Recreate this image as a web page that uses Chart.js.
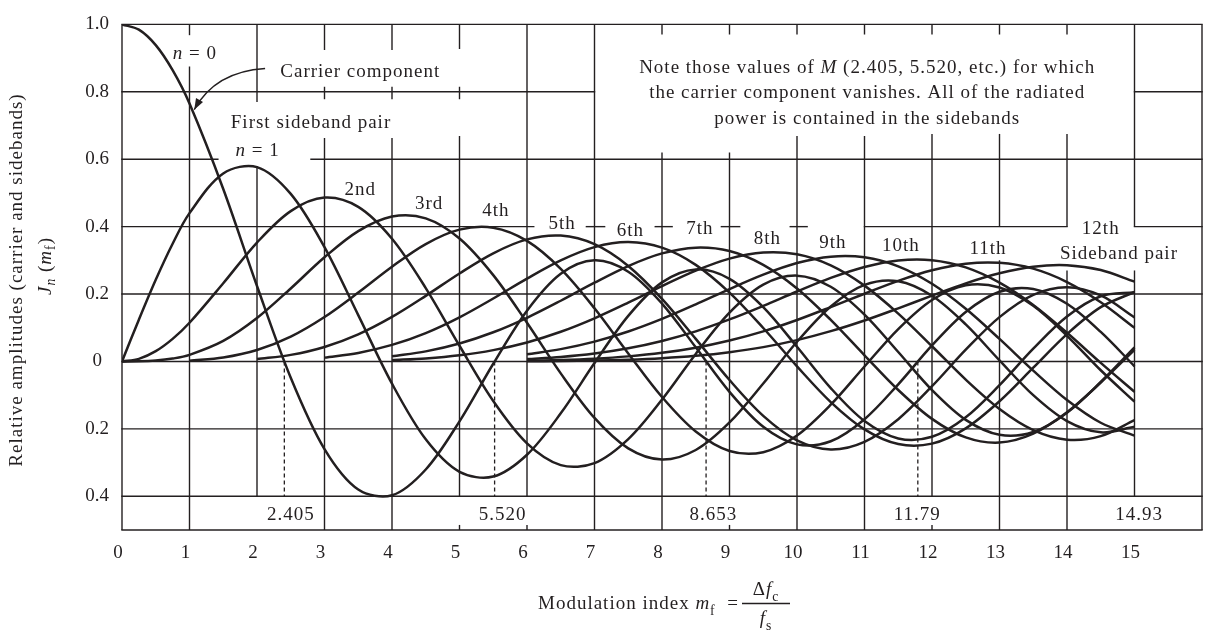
<!DOCTYPE html>
<html>
<head>
<meta charset="utf-8">
<script src="https://cdn.jsdelivr.net/npm/chart.js@4.4.1/dist/chart.umd.min.js"></script>
<style>
  html, body { margin: 0; padding: 0; background: #fff; }
  #wrap { width: 1210px; height: 635px; }
</style>
</head>
<body>
<div id="wrap"><canvas id="bessel" width="1210" height="635"></canvas></div>
<script>
// --- values (finer steps near m_f = 0 where the carrier bends) ---
const MF = [0, 0.25, 0.5, 0.75, 1, 1.5, 2, 2.5, 3, 3.5, 4, 4.5, 5, 5.5, 6, 6.5, 7, 7.5,
            8, 8.5, 9, 9.5, 10, 10.5, 11, 11.5, 12, 12.5, 13, 13.5, 14, 14.5, 15];

const J0 = [1, 0.9844, 0.9385, 0.8642, 0.7652, 0.5118, 0.2239, -0.0484, -0.2601, -0.3801, -0.3971, -0.3205, -0.1776, -0.0068,
            0.1506, 0.2601, 0.3001, 0.2663, 0.1717, 0.0419, -0.0903, -0.1939, -0.2459, -0.2366, -0.1712, -0.0677,
            0.0477, 0.1469, 0.2069, 0.2150, 0.1711, 0.0876, -0.0142];
const J1 = [0, 0.1240, 0.2423, 0.3492, 0.4401, 0.5579, 0.5767, 0.4971, 0.3391, 0.1374, -0.0660, -0.2311, -0.3276, -0.3414,
            -0.2767, -0.1538, -0.0047, 0.1352, 0.2346, 0.2731, 0.2453, 0.1613, 0.0435, -0.0789, -0.1768, -0.2284,
            -0.2234, -0.1655, -0.0703, 0.0380, 0.1334, 0.1934, 0.2051];
const J2 = [0, 0.0078, 0.0306, 0.0671, 0.1149, 0.2321, 0.3528, 0.4461, 0.4861, 0.4586, 0.3641, 0.2178, 0.0466, -0.1173,
            -0.2429, -0.3074, -0.3014, -0.2303, -0.1130, 0.0224, 0.1448, 0.2279, 0.2546, 0.2216, 0.1390, 0.0280,
            -0.0849, -0.1734, -0.2177, -0.2094, -0.1520, -0.0609, 0.0416];
const J3 = [0, 0.0003, 0.0026, 0.0085, 0.0196, 0.0610, 0.1289, 0.2166, 0.3091, 0.3868, 0.4302, 0.4247, 0.3648, 0.2561,
            0.1148, -0.0354, -0.1676, -0.2580, -0.2911, -0.2626, -0.1809, -0.0653, 0.0584, 0.1633, 0.2273, 0.2381,
            0.1951, 0.1100, 0.0033, -0.1000, -0.1768, -0.2102, -0.1940];
const J4 = [null, null, null, null, 0.0025, 0.0118, 0.0340, 0.0738, 0.1320, 0.2044, 0.2811, 0.3484, 0.3912, 0.3967,
            0.3576, 0.2747, 0.1578, 0.0239, -0.1054, -0.2078, -0.2655, -0.2691, -0.2196, -0.1283, -0.0150, 0.0962,
            0.1825, 0.2262, 0.2193, 0.1650, 0.0762, -0.0261, -0.1192];
const J5 = [null, null, null, null, null, null, 0.0070, 0.0195, 0.0430, 0.0804, 0.1321, 0.1947, 0.2611, 0.3209,
            0.3621, 0.3735, 0.3479, 0.2835, 0.1858, 0.0670, -0.0550, -0.1613, -0.2341, -0.2611, -0.2383, -0.1712,
            -0.0735, 0.0348, 0.1316, 0.1978, 0.2204, 0.1958, 0.1305];
const J6 = [null, null, null, null, null, null, null, null, 0.0114, 0.0254, 0.0491, 0.0843, 0.1310, 0.1868,
            0.2458, 0.2999, 0.3392, 0.3541, 0.3376, 0.2866, 0.2043, 0.0993, -0.0145, -0.1204, -0.2016, -0.2451,
            -0.2437, -0.1984, -0.1180, -0.0185, 0.0812, 0.1611, 0.2061];
const J7 = [null, null, null, null, null, null, null, null, null, null, 0.0152, 0.0300, 0.0534, 0.0866,
            0.1296, 0.1801, 0.2336, 0.2831, 0.3206, 0.3376, 0.3275, 0.2867, 0.2167, 0.1235, 0.0184, -0.0846,
            -0.1703, -0.2253, -0.2406, -0.2142, -0.1508, -0.0625, 0.0345];
const J8 = [null, null, null, null, null, null, null, null, null, null, 0.0040, 0.0091, 0.0184, 0.0337,
            0.0565, 0.0881, 0.1280, 0.1744, 0.2235, 0.2694, 0.3051, 0.3232, 0.3179, 0.2851, 0.2250, 0.1421,
            0.0451, -0.0539, -0.1410, -0.2036, -0.2320, -0.2214, -0.1740];
const J9 = [null, null, null, null, null, null, null, null, null, null, null, null, null, null,
            0.0212, 0.0366, 0.0589, 0.0889, 0.1263, 0.1694, 0.2149, 0.2576, 0.2919, 0.3109, 0.3089, 0.2823,
            0.2304, 0.1563, 0.0670, -0.0271, -0.1143, -0.1818, -0.2200];
const J10 = [null, null, null, null, null, null, null, null, null, null, null, null, null, null,
            0.0070, 0.0133, 0.0235, 0.0390, 0.0608, 0.0894, 0.1247, 0.1649, 0.2075, 0.2479, 0.2804, 0.2998,
            0.3005, 0.2790, 0.2338, 0.1675, 0.0850, -0.0043, -0.0901];
const J11 = [null, null, null, null, null, null, null, null, null, null, null, null, null, null,
            0.0020, 0.0043, 0.0083, 0.0151, 0.0256, 0.0410, 0.0622, 0.0894, 0.1231, 0.1613, 0.2010, 0.2391,
            0.2704, 0.2901, 0.2927, 0.2753, 0.2357, 0.1759, 0.1000];
const J12 = [null, null, null, null, null, null, null, null, null, null, null, null, null, null,
            0.0005, 0.0013, 0.0027, 0.0052, 0.0096, 0.0167, 0.0274, 0.0425, 0.0634, 0.0899, 0.1216, 0.1576,
            0.1953, 0.2316, 0.2615, 0.2811, 0.2855, 0.2712, 0.2367];

const ORDERS = [J0, J1, J2, J3, J4, J5, J6, J7, J8, J9, J10, J11, J12];
const X_TICKS = [0, 1, 2, 3, 4, 5, 6, 7, 8, 9, 10, 11, 12, 13, 14, 15];
const Y_TICKS = [-0.4, -0.2, 0, 0.2, 0.4, 0.6, 0.8, 1.0];
const CARRIER_NULLS = [2.405, 5.520, 8.653, 11.79];
const NULL_LABELS = ['2.405', '5.520', '8.653', '11.79', '14.93'];

const INK = '#231f20';
const FONT = '"Liberation Serif", "Times New Roman", serif';
const FS = 19;

// ruled lines of the drawing, in axis units (they have gaps round the labels)
const H_RULES = [
  [1.0, 0, 16], [0.8, 0, 7], [0.8, 15, 16], [0.6, 0, 1.42], [0.6, 2.8, 16],
  [0.4, 0, 6.1], [0.4, 6.88, 7.15], [0.4, 7.9, 8.15], [0.4, 8.88, 9.15], [0.4, 9.9, 10.15],
  [0.4, 11, 14], [0.4, 15, 16], [0.2, 0, 16], [0, 0, 16], [-0.2, 0, 16], [-0.4, 0, 16], [-0.5, 0, 16]
];
const V_RULES = [
  [0, [[1, -0.5]]],
  [1, [[1, 0.968], [0.875, -0.5]]],
  [2, [[1, 0.77], [0.58, -0.4]]],
  [3, [[1, 0.924], [0.815, 0.778], [0.663, -0.5]]],
  [4, [[1, 0.924], [0.815, 0.778], [0.663, -0.5]]],
  [5, [[1, 0.927], [0.815, 0.778], [0.669, -0.4], [-0.485, -0.5]]],
  [6, [[1, -0.4], [-0.485, -0.5]]],
  [7, [[1, -0.5]]],
  [8, [[1, 0.97], [0.62, -0.5]]],
  [9, [[1, 0.97], [0.62, -0.4], [-0.485, -0.5]]],
  [10, [[1, 0.97], [0.669, -0.5]]],
  [11, [[1, 0.97], [0.669, -0.5]]],
  [12, [[1, 0.97], [0.675, -0.4], [-0.485, -0.5]]],
  [13, [[1, 0.97], [0.675, 0.4], [0.30, -0.5]]],
  [14, [[1, 0.97], [0.675, 0.4], [0.27, -0.5]]],
  [15, [[1, 0.4], [0.27, -0.4]]],
  [16, [[1, -0.5]]]
];

function line(ctx, x0, y0, x1, y1) {
  ctx.beginPath(); ctx.moveTo(x0, y0); ctx.lineTo(x1, y1); ctx.stroke();
}

// parts: [text, style]  style: '' roman, 'i' italic, 's' subscript, 'is' italic subscript
function drawParts(ctx, parts, x, y, align) {
  const runs = parts.map(([t, st]) => {
    const sub = st.includes('s');
    const size = sub ? FS * 0.72 : FS;
    const font = (st.includes('i') ? 'italic ' : '') + size + 'px ' + FONT;
    ctx.font = font;
    return { t, font, dy: sub ? FS * 0.3 : 0, w: ctx.measureText(t).width };
  });
  const total = runs.reduce((s, r) => s + r.w, 0);
  let cx = align === 'left' ? x : x - total / 2;
  ctx.textAlign = 'left';
  runs.forEach(r => { ctx.font = r.font; ctx.fillText(r.t, cx, y + r.dy); cx += r.w; });
}

const LABELS = [
  [1.08, 0.913, [['n', 'i'], [' = 0', '']]],
  [3.53, 0.860, [['Carrier component', '']]],
  [2.80, 0.706, [['First sideband pair', '']]],
  [2.01, 0.625, [['n', 'i'], [' = 1', '']]],
  [3.53, 0.509, [['2nd', '']]],
  [4.55, 0.468, [['3rd', '']]],
  [5.54, 0.445, [['4th', '']]],
  [6.52, 0.407, [['5th', '']]],
  [7.53, 0.387, [['6th', '']]],
  [8.56, 0.392, [['7th', '']]],
  [9.56, 0.363, [['8th', '']]],
  [10.53, 0.352, [['9th', '']]],
  [11.54, 0.343, [['10th', '']]],
  [12.83, 0.334, [['11th', '']]],
  [14.50, 0.392, [['12th', '']]],
  [14.77, 0.320, [['Sideband pair', '']]],
  [11.04, 0.872, [['Note those values of ', ''], ['M', 'i'], [' (2.405, 5.520, etc.) for which', '']]],
  [11.04, 0.797, [['the carrier component vanishes. All of the radiated', '']]],
  [11.04, 0.718, [['power is contained in the sidebands', '']]]
];
const NULL_LABEL_X = [2.50, 5.64, 8.76, 11.78, 15.07];

const drawing = {
  id: 'drawing',
  beforeDatasetsDraw(chart) {
    const { ctx, scales: { x, y } } = chart;
    ctx.save();
    ctx.strokeStyle = INK;
    ctx.lineWidth = 1.4;
    H_RULES.forEach(([v, a, b]) => {
      const py = y.getPixelForValue(v);
      line(ctx, x.getPixelForValue(a) - 0.7, py, x.getPixelForValue(b) + 0.7, py);
    });
    V_RULES.forEach(([u, spans]) => {
      const px = x.getPixelForValue(u);
      spans.forEach(([a, b]) => line(ctx, px, y.getPixelForValue(a), px, y.getPixelForValue(b)));
    });
    ctx.setLineDash([4, 3]);
    ctx.lineWidth = 1.3;
    CARRIER_NULLS.forEach(u => {
      const px = x.getPixelForValue(u);
      line(ctx, px, y.getPixelForValue(0), px, y.getPixelForValue(-0.4));
    });
    ctx.restore();
  },
  afterDraw(chart) {
    const { ctx, scales: { x, y } } = chart;
    ctx.save();
    ctx.fillStyle = INK;
    ctx.strokeStyle = INK;
    ctx.letterSpacing = '1px';
    ctx.wordSpacing = '4px';
    ctx.textBaseline = 'middle';
    LABELS.forEach(([u, v, parts]) => drawParts(ctx, parts, x.getPixelForValue(u), y.getPixelForValue(v)));
    NULL_LABELS.forEach((t, i) => drawParts(ctx, [[t, '']], x.getPixelForValue(NULL_LABEL_X[i]), y.getPixelForValue(-0.456)));

    // arrow to the carrier curve
    const p0 = [x.getPixelForValue(2.12), y.getPixelForValue(0.869)];
    const pc = [x.getPixelForValue(1.38), y.getPixelForValue(0.860)];
    const p1 = [x.getPixelForValue(1.07), y.getPixelForValue(0.747)];
    ctx.lineWidth = 1.4;
    ctx.beginPath(); ctx.moveTo(p0[0], p0[1]); ctx.quadraticCurveTo(pc[0], pc[1], p1[0], p1[1]); ctx.stroke();
    const ang = Math.atan2(p1[1] - pc[1], p1[0] - pc[0]);
    ctx.beginPath();
    ctx.moveTo(p1[0], p1[1]);
    ctx.lineTo(p1[0] - 11 * Math.cos(ang) + 4 * Math.sin(ang), p1[1] - 11 * Math.sin(ang) - 4 * Math.cos(ang));
    ctx.lineTo(p1[0] - 11 * Math.cos(ang) - 4 * Math.sin(ang), p1[1] - 11 * Math.sin(ang) + 4 * Math.cos(ang));
    ctx.closePath(); ctx.fill();

    // y axis title, two lines
    ctx.save();
    ctx.translate(17, 280); ctx.rotate(-Math.PI / 2);
    drawParts(ctx, [['Relative amplitudes (carrier and sidebands)', '']], 0, 0);
    ctx.restore();
    ctx.save();
    ctx.translate(46, 266); ctx.rotate(-Math.PI / 2);
    drawParts(ctx, [['J', 'i'], ['n', 'is'], [' (', ''], ['m', 'i'], ['f', 's'], [')', '']], 0, 0);
    ctx.restore();

    // x axis title with the fraction
    ctx.textBaseline = 'alphabetic';
    drawParts(ctx, [['Modulation index ', ''], ['m', 'i'], ['f', 's']], 538, 609, 'left');
    drawParts(ctx, [['=', '']], 733, 609);
    drawParts(ctx, [['\u0394', ''], ['f', 'i'], ['c', 's']], 766, 595);
    drawParts(ctx, [['f', 'i'], ['s', 's']], 766, 624);
    ctx.lineWidth = 1.3;
    line(ctx, 742, 603.5, 790, 603.5);
    ctx.restore();
  }
};

const datasets = ORDERS.map((vals, n) => ({
  label: 'J' + n,
  data: MF.map((m, i) => ({ x: m, y: vals[i] })),
  borderColor: INK,
  borderWidth: 2.5,
  pointRadius: 0,
  tension: 0.33,
  fill: false,
  spanGaps: false
}));

new Chart(document.getElementById('bessel'), {
  type: 'line',
  data: { datasets },
  options: {
    responsive: false,
    animation: false,
    layout: { padding: { top: 14, right: 8, left: 0, bottom: 0 } },
    plugins: { legend: { display: false }, tooltip: { enabled: false } },
    scales: {
      x: {
        type: 'linear', min: 0, max: 16,
        grid: { display: false, drawTicks: false },
        border: { display: false },
        afterBuildTicks: s => { s.ticks = X_TICKS.map(v => ({ value: v })); },
        afterFit: s => { s.height = 105; },
        ticks: {
          font: { family: FONT, size: FS }, color: INK, padding: 12, labelOffset: -4,
          maxRotation: 0, autoSkip: false, callback: v => String(v)
        }
      },
      y: {
        type: 'linear', min: -0.5, max: 1.0,
        grid: { display: false, drawTicks: false },
        border: { display: false },
        afterBuildTicks: s => { s.ticks = Y_TICKS.map(v => ({ value: v })); },
        afterFit: s => { s.width = 122; },
        ticks: {
          font: { family: FONT, size: FS }, color: INK, padding: 13, crossAlign: 'center',
          callback: v => (v === 0 ? '0' : Math.abs(v).toFixed(1))
        }
      }
    }
  },
  plugins: [drawing]
});
</script>
</body>
</html>
